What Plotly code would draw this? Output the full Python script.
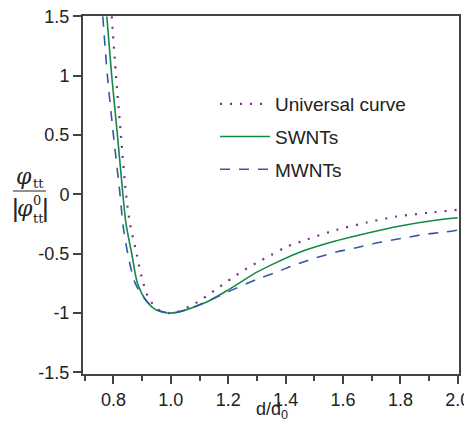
import plotly.graph_objects as go

# ---- data ----
univ_x = [0.794, 0.809, 0.826, 0.844, 0.858, 0.881, 0.899, 0.924, 0.96, 1.0, 1.035, 1.067, 1.098,
          1.129, 1.159, 1.188, 1.218, 1.248, 1.3, 1.35, 1.4, 1.474, 1.578, 1.683, 1.787, 1.899, 2.0]
univ_y = [1.5, 1.0, 0.5, 0.0, -0.25, -0.5, -0.7, -0.88, -0.975, -1.0, -0.98, -0.94, -0.90,
          -0.848, -0.798, -0.747, -0.697, -0.649, -0.575, -0.51, -0.445, -0.38, -0.298, -0.237, -0.186, -0.155, -0.13]

sw_x = [0.777, 0.794, 0.814, 0.833, 0.844, 0.864, 0.884, 0.916, 0.95, 1.0, 1.05, 1.125, 1.195,
        1.30, 1.38, 1.451, 1.567, 1.683, 1.799, 1.915, 2.0]
sw_y = [1.5, 1.0, 0.5, 0.0, -0.25, -0.5, -0.75, -0.9, -0.975, -1.0, -0.975, -0.907, -0.812,
        -0.655, -0.56, -0.485, -0.397, -0.327, -0.266, -0.22, -0.197]

mw_x = [0.763, 0.779, 0.80, 0.823, 0.833, 0.85, 0.876, 0.916, 0.95, 1.0, 1.05, 1.137, 1.218,
        1.30, 1.357, 1.42, 1.497, 1.576, 1.65, 1.725, 1.804, 1.88, 1.952, 2.0]
mw_y = [1.5, 1.0, 0.5, 0.0, -0.25, -0.5, -0.75, -0.9, -0.97, -1.0, -0.975, -0.89, -0.80,
        -0.715, -0.665, -0.605, -0.54, -0.486, -0.447, -0.405, -0.371, -0.338, -0.318, -0.30]

series_names = ["Universal curve", "SWNTs", "MWNTs"]
x_ticks = [0.8, 1.0, 1.2, 1.4, 1.6, 1.8, 2.0]
x_tick_labels = ["0.8", "1.0", "1.2", "1.4", "1.6", "1.8", "2.0"]
y_ticks = [-1.5, -1.0, -0.5, 0.0, 0.5, 1.0, 1.5]
y_tick_labels = ["-1.5", "-1", "-0.5", "0", "0.5", "1", "1.5"]

FONT = "Liberation Sans, Arial, sans-serif"
PURPLE = "#7b2f8e"
GREEN = "#138a43"
BLUE = "#3557a8"

fig = go.Figure()
fig.add_trace(go.Scatter(x=univ_x, y=univ_y, mode="lines", name=series_names[0], legendgroup="a",
                         line=dict(color=PURPLE, width=2.2, dash="2px,8px", shape="spline", smoothing=0.8)))
fig.add_trace(go.Scatter(x=sw_x, y=sw_y, mode="lines", name=series_names[1], legendgroup="b",
                         line=dict(color=GREEN, width=1.6, shape="spline", smoothing=0.8)))
fig.add_trace(go.Scatter(x=mw_x, y=mw_y, mode="lines", name=series_names[2], legendgroup="c",
                         line=dict(color=BLUE, width=1.6, dash="10px,9px", shape="spline", smoothing=0.8)))

# page is offset by the browser's 8px body margin, so the figure is drawn 8px smaller
OFF = 8
W, H = 472 - OFF, 424 - OFF
L, R, T, B = 83 - OFF, 459 - OFF, 16 - OFF, 374 - OFF


def xp(px):  # px in page coordinates
    return (px - OFF - L) / (R - L)


def yp(py):
    return 1 - (py - OFF - T) / (B - T)


ann = []
tc = "#222"
# y-axis fraction title
ann.append(dict(text="<i>φ</i>", x=xp(24), y=yp(176), font=dict(size=22, family="DejaVu Serif", color=tc)))
ann.append(dict(text="tt", x=xp(38), y=yp(184), font=dict(size=13, family="DejaVu Serif", color=tc)))
ann.append(dict(text="|", x=xp(15), y=yp(208), font=dict(size=26, family=FONT, color=tc)))
ann.append(dict(text="<i>φ</i>", x=xp(25), y=yp(208), font=dict(size=22, family="DejaVu Serif", color=tc)))
ann.append(dict(text="0", x=xp(37), y=yp(200), font=dict(size=13, family="DejaVu Serif", color=tc)))
ann.append(dict(text="tt", x=xp(38), y=yp(218), font=dict(size=13, family="DejaVu Serif", color=tc)))
ann.append(dict(text="|", x=xp(45), y=yp(208), font=dict(size=26, family=FONT, color=tc)))
# x-axis title
ann.append(dict(text="d/d<sub>0</sub>", x=xp(272), y=yp(410), font=dict(size=18, family=FONT, color=tc)))
for a in ann:
    a.update(xref="paper", yref="paper", showarrow=False, xanchor="center", yanchor="middle")

fig.update_layout(
    template="none",
    width=W, height=H,
    margin=dict(l=L, r=W - R, t=T, b=H - B, autoexpand=False),
    paper_bgcolor="white", plot_bgcolor="white",
    font=dict(family=FONT, size=18, color=tc),
    showlegend=True,
    legend=dict(x=xp(215), y=yp(85), xanchor="left", yanchor="top",
                bgcolor="rgba(0,0,0,0)", font=dict(size=19, family=FONT, color=tc),
                itemwidth=50, tracegroupgap=5),
    annotations=ann,
    shapes=[dict(type="line", xref="paper", yref="paper", x0=xp(13), x1=xp(46), y0=yp(191), y1=yp(191),
                 line=dict(color=tc, width=1.2))],
)
fig.update_xaxes(range=[0.694, 2.004], tickvals=x_ticks, ticktext=x_tick_labels,
                 ticks="outside", ticklen=8, tickwidth=1.5, tickcolor="#444",
                 showline=True, linecolor="#444", linewidth=2, mirror=True,
                 showgrid=False, zeroline=False, automargin=False, ticklabeloverflow="allow",
                 minor=dict(dtick=0.1, tick0=0.7, ticks="outside", ticklen=5, tickwidth=1.5,
                            tickcolor="#444", showgrid=False),
                 tickfont=dict(size=18))
fig.update_yaxes(range=[-1.513, 1.503], tickvals=y_ticks, ticktext=y_tick_labels,
                 ticks="outside", ticklen=8, tickwidth=1.5, tickcolor="#444",
                 showline=True, linecolor="#444", linewidth=2, mirror=True,
                 showgrid=False, zeroline=False, automargin=False, ticklabeloverflow="allow",
                 tickfont=dict(size=18))

fig.write_html("out.html")
